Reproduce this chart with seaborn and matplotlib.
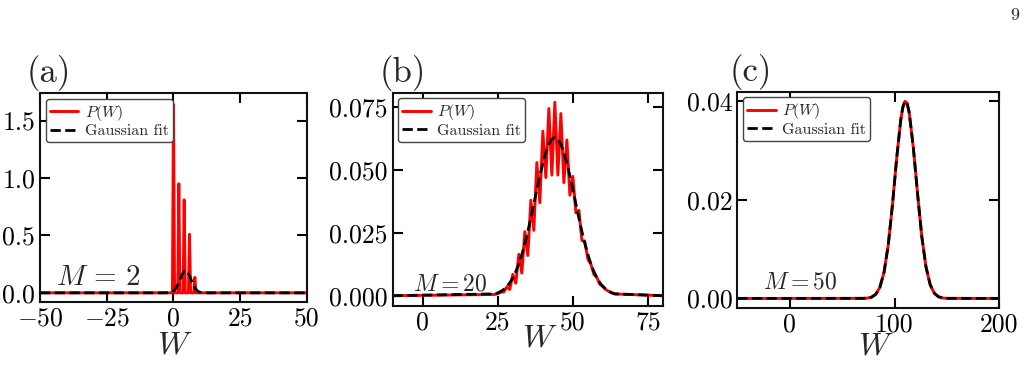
import matplotlib
matplotlib.use("Agg")
import matplotlib.pyplot as plt
import seaborn as sns

# panel (a), M = 2: narrow peaks of P(W) and the Gaussian fit
w_a = [-50, -0.4, 0, 0.4, 1.6, 2, 2.4, 3.6, 4, 4.4, 5.6, 6, 6.4, 7.6, 8, 8.4, 50]
p_a = [0, 0, 1.64, 0, 0, 0.95, 0, 0, 0.81, 0, 0, 0.51, 0, 0, 0.135, 0, 0]
wg_a = [-50, -4, -2, -1, 0, 1, 2, 3, 4, 4.5, 5, 6, 7, 8, 9, 10, 11, 13, 50]
g_a = [0, 0.00002, 0.001, 0.0045, 0.0157, 0.0426, 0.0902, 0.1487, 0.1909, 0.197,
       0.1909, 0.1487, 0.0902, 0.0426, 0.0157, 0.0045, 0.001, 0.00002, 0]

# panel (b), M = 20
w_b = [-10, 24, 25, 26, 27, 28, 29, 30, 31, 32, 33, 34, 35, 36, 37, 38, 39, 40, 41, 42, 43, 44,
       45, 46, 47, 48, 49, 50, 51, 52, 53, 54, 55, 56, 57, 58, 59, 60, 61, 62, 63, 64, 80]
p_b = [0, 0.0005, 0.0008, 0.0014, 0.0015, 0.0035, 0.0025, 0.0085, 0.005, 0.0165, 0.009,
       0.0255, 0.016, 0.038, 0.026, 0.053, 0.037, 0.0655, 0.047, 0.0745, 0.048, 0.077,
       0.048, 0.0725, 0.045, 0.062, 0.040, 0.0475, 0.033, 0.034, 0.022, 0.0215, 0.0145,
       0.0125, 0.0085, 0.0072, 0.0045, 0.0037, 0.0024, 0.0017, 0.0011, 0.0007, 0]
g_b = [0, 0.00073, 0.00113, 0.00171, 0.00252, 0.00364, 0.00514, 0.0071, 0.0096, 0.01267,
       0.01637, 0.02068, 0.02556, 0.03088, 0.0365, 0.0422, 0.0477, 0.0527, 0.0570, 0.0603,
       0.0623, 0.063, 0.0623, 0.0603, 0.0570, 0.0527, 0.0477, 0.0422, 0.0365, 0.03088,
       0.02556, 0.02068, 0.01637, 0.01267, 0.0096, 0.0071, 0.00514, 0.00364, 0.00252,
       0.00171, 0.00113, 0.00073, 0]

# panel (c), M = 50 (P(W) and fit coincide)
w_c = [-50, 70, 74, 78, 82, 86, 90, 94, 98, 102, 106, 108, 110, 112, 114, 118, 122, 126,
       130, 134, 138, 142, 146, 150, 200]
p_c = [0, 0.00002, 0.00007, 0.00025, 0.00081, 0.00223, 0.0053, 0.0108, 0.01887, 0.02826,
       0.03629, 0.0388, 0.03995, 0.0396, 0.0377, 0.0305, 0.0212, 0.0126, 0.00643, 0.00281,
       0.00105, 0.00034, 0.00009, 0.00002, 0]
g_c = [0, 0.00002, 0.00007, 0.00025, 0.00081, 0.00223, 0.0053, 0.0108, 0.01887, 0.02826,
       0.03629, 0.0388, 0.03995, 0.0396, 0.0377, 0.0305, 0.0212, 0.0126, 0.00643, 0.00281,
       0.00105, 0.00034, 0.00009, 0.00002, 0]

panels = [
    dict(w=w_a, p=p_a, wg=wg_a, g=g_a, tag="(a)", mlabel=r"$M\,=\,2$", msize=21,
         xlim=(-50, 50), ylim=(-0.08, 1.74), xticks=[-50, -25, 0, 25, 50],
         yticks=[0.0, 0.5, 1.0, 1.5], yfmt="{:.1f}",
         rect=[0.0390, 0.2135, 0.2602, 0.5443], tagx=-0.05, mpos=(0.06, 0.08),
         wpos=(0.506, -0.145)),
    dict(w=w_b, p=p_b, wg=w_b, g=g_b, tag="(b)", mlabel=r"$M{=}20$", msize=17,
         xlim=(-10, 80), ylim=(-0.0041, 0.0808), xticks=[0, 25, 50, 75],
         yticks=[0.0, 0.025, 0.05, 0.075], yfmt="{:.3f}",
         rect=[0.3827, 0.2031, 0.2635, 0.5555], tagx=-0.047, mpos=(0.076, 0.075),
         wpos=(0.545, -0.088)),
    dict(w=w_c, p=p_c, wg=w_c, g=g_c, tag="(c)", mlabel=r"$M{=}50$", msize=17,
         xlim=(-50, 200), ylim=(-0.002, 0.0419), xticks=[0, 100, 200],
         yticks=[0.0, 0.02, 0.04], yfmt="{:.2f}",
         rect=[0.7186, 0.1971, 0.2554, 0.5641], tagx=-0.028, mpos=(0.099, 0.092),
         wpos=(0.528, -0.112)),
]

sns.set_style("ticks")
plt.rcParams["font.family"] = "serif"
plt.rcParams["font.serif"] = ["cmr10"]
plt.rcParams["mathtext.fontset"] = "cm"
plt.rcParams["axes.formatter.use_mathtext"] = True
plt.rcParams["axes.unicode_minus"] = True

fig = plt.figure(figsize=(10.26, 3.84), dpi=100)

for pn in panels:
    ax = fig.add_axes(pn["rect"])
    sns.lineplot(x=pn["w"], y=pn["p"], color="red", lw=2.1, label=r"$P(W)$", ax=ax)
    sns.lineplot(x=pn["wg"], y=pn["g"], color="black", lw=2, linestyle="--",
                 label="Gaussian fit", ax=ax)
    ax.set_xlim(*pn["xlim"])
    ax.set_ylim(*pn["ylim"])
    ax.set_xticks(pn["xticks"])
    ax.set_yticks(pn["yticks"])
    ax.set_xticklabels([r"$%d$" % t if t < 0 else str(t) for t in pn["xticks"]])
    ax.set_yticklabels([pn["yfmt"].format(t) for t in pn["yticks"]])
    ax.tick_params(direction="in", top=True, right=True, length=7, width=1.5,
                   labelsize=18.5, colors="black")
    for s in ax.spines.values():
        s.set_linewidth(1.5)
        s.set_color("#111111")
    ax.set_xlabel(r"$W$", fontsize=23, va="top")
    ax.xaxis.set_label_coords(*pn["wpos"])
    ax.set_ylabel("")
    ax.text(pn["tagx"], 1.01, pn["tag"], transform=ax.transAxes, fontsize=25,
            ha="left", va="bottom")
    ax.text(pn["mpos"][0], pn["mpos"][1], pn["mlabel"], transform=ax.transAxes,
            fontsize=pn["msize"], ha="left", va="baseline")
    leg = ax.legend(loc="upper left", fontsize=11.5, handlelength=1.8, handletextpad=0.4,
                    borderaxespad=0.35, borderpad=0.25, labelspacing=0.1,
                    frameon=True, fancybox=True, framealpha=1)
    leg.get_frame().set_edgecolor("#444444")
    leg.get_frame().set_linewidth(1.0)

fig.text(0.989, 0.948, "9", fontsize=13, ha="center", va="baseline")

fig.savefig("out.png", dpi=100)
